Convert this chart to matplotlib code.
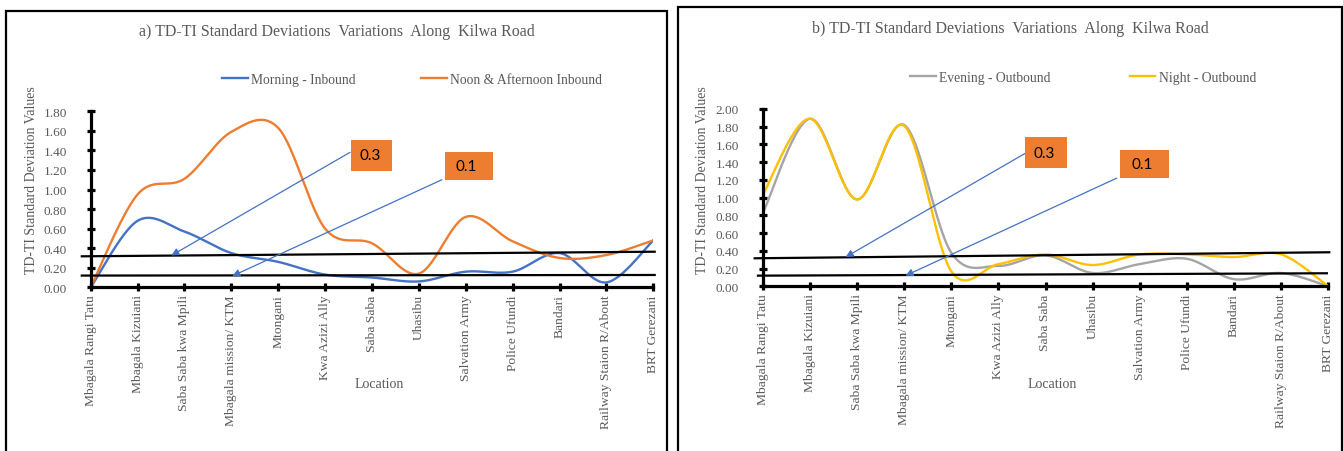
import matplotlib
matplotlib.use("Agg")
import matplotlib.pyplot as plt
from matplotlib.patches import Rectangle
import numpy as np

plt.rcParams["font.family"] = ["Liberation Serif", "DejaVu Serif"]

locations = [
    "Mbagala Rangi Tatu", "Mbagala Kizuiani", "Saba Saba kwa Mpili",
    "Mbagala mission/ KTM", "Mtongani", "Kwa Azizi Ally", "Saba Saba",
    "Uhasibu", "Salvation Army", "Police Ufundi", "Bandari",
    "Railway Staion R/About", "BRT Gerezani",
]

morning_in = [0.00, 0.68, 0.57, 0.35, 0.26, 0.13, 0.10, 0.06, 0.16, 0.16, 0.35, 0.05, 0.48]
noon_in = [0.00, 0.95, 1.11, 1.59, 1.63, 0.60, 0.45, 0.14, 0.72, 0.47, 0.30, 0.33, 0.48]
evening_out = [0.82, 1.89, 0.98, 1.82, 0.38, 0.23, 0.35, 0.15, 0.25, 0.31, 0.08, 0.15, 0.00]
night_out = [1.03, 1.89, 0.98, 1.81, 0.17, 0.25, 0.36, 0.24, 0.36, 0.36, 0.33, 0.36, 0.00]

# hand-drawn reference lines: (x0, y0, x1, y1)
lines_a = [(-0.19, 0.317, 12.03, 0.364), (-0.19, 0.120, 12.03, 0.126)]
lines_b = [(-0.17, 0.316, 12.02, 0.384), (-0.10, 0.120, 11.97, 0.147)]

GREY = "#595959"
W, H = 1343, 452


def smooth(y, n=30):
    # Excel-style smoothed line (Catmull-Rom through every point)
    y = np.asarray(y, float)
    x = np.arange(len(y), dtype=float)
    xs, ys = [], []
    for i in range(len(y) - 1):
        i0, i3 = max(i - 1, 0), min(i + 2, len(y) - 1)
        t = np.linspace(0, 1, n, endpoint=False)
        for arr, out in ((x, xs), (y, ys)):
            p0, p1, p2, p3 = arr[i0], arr[i], arr[i + 1], arr[i3]
            c1 = p1 + (p2 - p0) / 6
            c2 = p2 - (p3 - p1) / 6
            out.extend((1 - t) ** 3 * p1 + 3 * (1 - t) ** 2 * t * c1
                       + 3 * (1 - t) * t ** 2 * c2 + t ** 3 * p2)
    xs.append(x[-1])
    ys.append(y[-1])
    return np.array(xs), np.array(ys)


def px_rect(x0, x1, ybot, ytop):
    return [x0 / W, 1 - ybot / H, (x1 - x0) / W, (ybot - ytop) / H]


fig = plt.figure(figsize=(W / 100, H / 100), dpi=100)

# panel frames
fig.add_artist(Rectangle((6 / W, -0.05), (666.7 - 6) / W, 1.05 - 12 / H,
                         transform=fig.transFigure, fill=False, lw=1.6, ec="black"))
fig.add_artist(Rectangle((677.7 / W, -0.05), (1342.3 - 677.7) / W, 1.05 - 8 / H,
                         transform=fig.transFigure, fill=False, lw=1.6, ec="black"))


def style_axes(ax, ymax):
    ax.set_xlim(0, len(locations) - 1)
    ax.set_ylim(0, ymax)
    for s in ("top", "right"):
        ax.spines[s].set_visible(False)
    for s in ("left", "bottom"):
        ax.spines[s].set_linewidth(2.3)
    ax.set_xticks(range(len(locations)))
    ax.set_xticklabels(locations, rotation=90, fontsize=9.7, color=GREY)
    yt = np.arange(0, ymax + 0.001, 0.2)
    ax.set_yticks(yt)
    ax.set_yticklabels([f"{v:.2f}" for v in yt], fontsize=9.5, color=GREY)
    ax.tick_params(axis="both", direction="inout", length=6, width=2.3, color="black")
    ax.tick_params(axis="y", pad=14)
    ax.tick_params(axis="x", pad=2)
    ax.set_facecolor("none")


def callouts(ax, boxes):
    for label, (bx0, by0, bx1, by1), start, tip in boxes:
        ax.add_patch(Rectangle((bx0, by0), bx1 - bx0, by1 - by0, fc="#ED7D31",
                               ec="none", clip_on=False, zorder=5))
        ax.text(bx0 + (bx1 - bx0) * 0.45, (by0 + by1) / 2, label, family="Lato",
                fontsize=11, color="black", ha="center", va="center", zorder=6)
        ax.annotate("", xy=tip, xytext=start, annotation_clip=False,
                    arrowprops=dict(arrowstyle="-|>", color="#4472C4", lw=0.9,
                                    mutation_scale=11, shrinkA=0, shrinkB=0),
                    zorder=4)


def ref_lines(ax, lines):
    for x0, y0, x1, y1 in lines:
        ax.plot([x0, x1], [y0, y1], color="black", lw=1.6, clip_on=False, zorder=3)


# a) inbound
ax1 = fig.add_axes(px_rect(90.7, 653.3, 288.3, 112.3))
style_axes(ax1, 1.8)
ax1.plot(*smooth(morning_in), color="#4472C4", lw=1.7, label="Morning - Inbound")
ax1.plot(*smooth(noon_in), color="#ED7D31", lw=1.7, label="Noon & Afternoon Inbound")
ref_lines(ax1, lines_a)
callouts(ax1, [
    ("0.3", (5.56, 1.19, 6.43, 1.51), (5.53, 1.38), (1.72, 0.325)),
    ("0.1", (7.56, 1.10, 8.58, 1.38), (7.49, 1.10), (3.02, 0.115)),
])

# b) outbound
ax2 = fig.add_axes(px_rect(762.7, 1328.3, 287.3, 110))
style_axes(ax2, 2.0)
ax2.plot(*smooth(evening_out), color="#A5A5A5", lw=1.7, label="Evening - Outbound")
ax2.plot(*smooth(night_out), color="#FFC000", lw=1.7, label="Night - Outbound")
ref_lines(ax2, lines_b)
callouts(ax2, [
    ("0.3", (5.57, 1.33, 6.46, 1.68), (5.57, 1.50), (1.76, 0.33)),
    ("0.1", (7.58, 1.22, 8.62, 1.54), (7.51, 1.22), (3.03, 0.12)),
])

# titles, axis labels, legends
fig.text(336.5 / W, 1 - 32 / H, "a) TD-TI Standard Deviations  Variations  Along  Kilwa Road",
         ha="center", va="center", fontsize=11.5, color=GREY)
fig.text(1010.5 / W, 1 - 29 / H, "b) TD-TI Standard Deviations  Variations  Along  Kilwa Road",
         ha="center", va="center", fontsize=11.5, color=GREY)
for xc in (32, 703):
    fig.text(xc / W, 1 - 180 / H, "TD-TI Standard Deviation Values", rotation=90,
             ha="center", va="center", fontsize=10, color=GREY)
for xc in (379, 1052):
    fig.text(xc / W, 1 - 385 / H, "Location", ha="center", va="center",
             fontsize=10, color=GREY)

for ax, xc, yc, spacing in ((ax1, 412, 80.7, 4.8), (ax2, 1083, 78.3, 5.8)):
    leg = fig.legend(*ax.get_legend_handles_labels(), ncol=2, loc="center",
                     bbox_to_anchor=(xc / W, 1 - yc / H), frameon=False,
                     fontsize=9.8, handlelength=1.9, handletextpad=0.25,
                     columnspacing=spacing, borderpad=0)
    for t in leg.get_texts():
        t.set_color(GREY)

fig.savefig("out.png", dpi=100, facecolor="white")
